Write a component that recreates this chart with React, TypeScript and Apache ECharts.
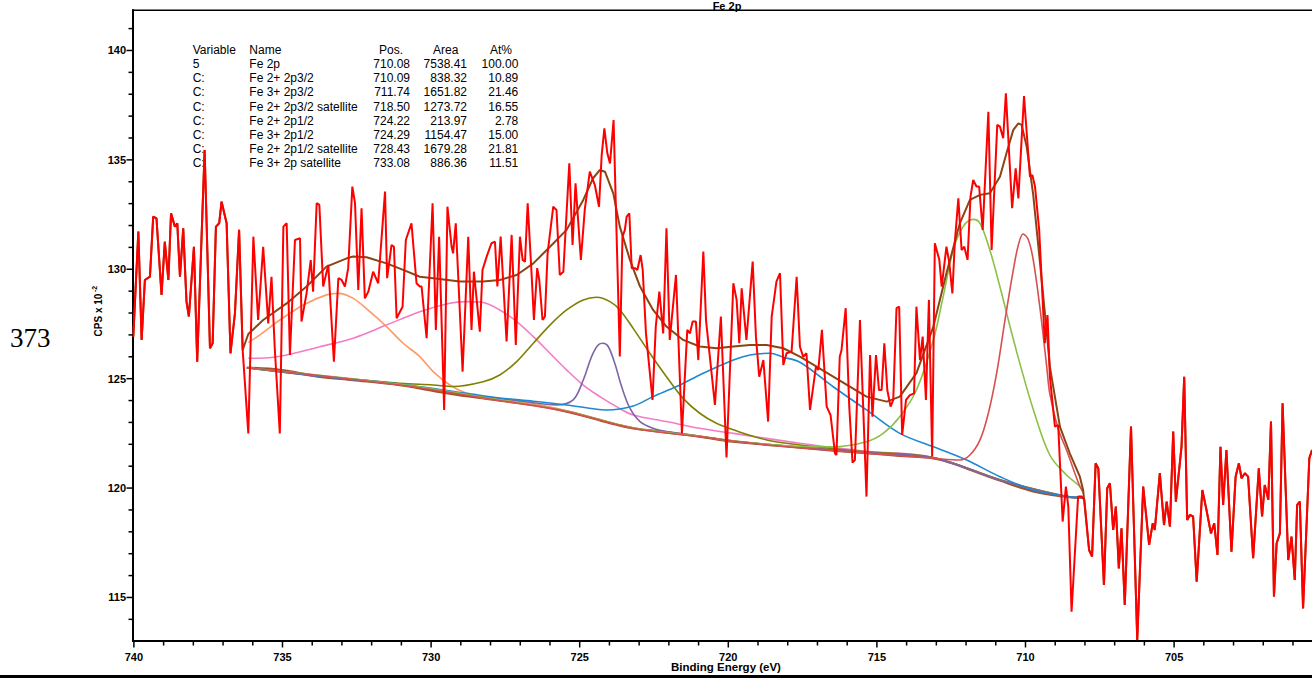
import React, { useEffect, useRef } from 'react';
import * as echarts from 'echarts';

// ---- data (binding energy eV, CPS x 10^-2) ----
const spectrum: [number, number][] = [
  [740.02, 126.92], [739.85, 131.72], [739.74, 126.77], [739.63, 129.51], [739.46, 129.66], [739.35, 132.41],
  [739.24, 132.33], [739.07, 128.83], [738.96, 131.26], [738.84, 129.51], [738.75, 132.56], [738.62, 131.95],
  [738.54, 132.1], [738.45, 129.66], [738.34, 131.87], [738.23, 128.52], [738.15, 127.84], [737.98, 131.03],
  [737.87, 125.78], [737.62, 135.45], [737.44, 126.39], [737.35, 126.62], [737.24, 131.95], [737.13, 132.1],
  [737.05, 133.09], [736.88, 132.1], [736.75, 126.16], [736.6, 127.99], [736.46, 131.8], [736.34, 126.31],
  [736.15, 122.5], [735.98, 131.49], [735.82, 127.68], [735.65, 131.03], [735.48, 127.53], [735.37, 129.66],
  [735.26, 126.39], [735.09, 122.5], [734.97, 131.95], [734.86, 132.1], [734.75, 126.08], [734.58, 131.34],
  [734.41, 131.42], [734.36, 127.61], [734.19, 128.9], [734.05, 130.42], [733.97, 128.98], [733.85, 133.02],
  [733.76, 132.94], [733.63, 129.21], [733.46, 130.2], [733.27, 125.78], [733.12, 129.59], [733.01, 129.51],
  [732.9, 129.21], [732.79, 130.04], [732.65, 133.78], [732.56, 133.02], [732.45, 129.05], [732.34, 132.79],
  [732.23, 128.67], [732.11, 128.98], [731.95, 129.89], [731.78, 129.36], [731.55, 133.55], [731.48, 129.59],
  [731.33, 131.11], [731.25, 131.03], [731.16, 127.76], [730.96, 128.29], [730.85, 131.34], [730.66, 132.1],
  [730.49, 129.36], [730.38, 129.21], [730.32, 129.21], [730.15, 126.85], [729.95, 133.02], [729.84, 127.23],
  [729.73, 131.49], [729.56, 123.57], [729.45, 132.86], [729.31, 131.03], [729.26, 130.73], [729.17, 132.1],
  [728.94, 125.32], [728.75, 131.49], [728.64, 127.23], [728.56, 129.89], [728.36, 127.15], [728.27, 129.97],
  [728.13, 130.58], [727.97, 131.19], [727.85, 131.26], [727.77, 129.21], [727.66, 131.49], [727.46, 126.7],
  [727.29, 131.57], [727.15, 126.54], [727.01, 131.49], [726.92, 130.43], [726.84, 130.35], [726.75, 133.02],
  [726.62, 129.82], [726.54, 127.68], [726.43, 130.05], [726.36, 129.51], [726.25, 127.68], [726.17, 127.84],
  [726.08, 130.73], [725.89, 132.86], [725.78, 132.71], [725.67, 129.74], [725.55, 129.89], [725.35, 134.84],
  [725.24, 131.11], [725.14, 133.93], [724.96, 130.43], [724.83, 132.71], [724.66, 134.46], [724.49, 133.85],
  [724.35, 132.86], [724.26, 135.22], [724.17, 136.44], [724.07, 135.3], [723.98, 134.84], [723.86, 136.82],
  [723.65, 126.01], [723.56, 131.49], [723.48, 131.8], [723.42, 132.41], [723.33, 132.56], [723.25, 130.05],
  [723.14, 130.05], [723.06, 129.97], [722.95, 130.65], [722.88, 129.97], [722.77, 127.07], [722.55, 124.03],
  [722.44, 127.38], [722.32, 128.98], [722.19, 127.07], [722.08, 131.87], [721.97, 126.77], [721.76, 129.74],
  [721.56, 122.5], [721.38, 127.23], [721.29, 127.07], [721.2, 127.61], [721.09, 127.61], [721.01, 125.85],
  [720.84, 130.81], [720.75, 127.68], [720.45, 123.8], [720.25, 127.84], [720.06, 121.4], [719.83, 129.36],
  [719.72, 128.6], [719.63, 126.62], [719.55, 129.13], [719.39, 126.77], [719.18, 130.35], [719.07, 126.92],
  [718.96, 125.09], [718.82, 125.85], [718.66, 123.04], [718.54, 127.84], [718.38, 129.44], [718.26, 129.82],
  [718.15, 125.63], [718.04, 126.16], [717.87, 126.24], [717.7, 129.66], [717.59, 126.46], [717.48, 126.0],
  [717.37, 126.16], [717.25, 123.57], [717.05, 125.55], [716.97, 125.4], [716.85, 127.23], [716.69, 123.72],
  [716.56, 123.34], [716.41, 121.59], [716.36, 121.51], [716.25, 126.0], [716.19, 126.31], [716.05, 128.22],
  [715.93, 123.72], [715.82, 121.16], [715.74, 121.28], [715.57, 127.68], [715.35, 119.61], [715.23, 126.08],
  [715.15, 123.26], [715.03, 126.08], [714.93, 124.48], [714.84, 124.48], [714.75, 126.62], [714.65, 124.48],
  [714.54, 123.72], [714.45, 124.03], [714.34, 128.22], [714.25, 128.29], [714.15, 122.43], [714.02, 124.03],
  [713.89, 124.25], [713.75, 124.33], [713.67, 128.29], [713.55, 125.85], [713.46, 126.92], [713.35, 124.03],
  [713.25, 128.6], [713.14, 121.44], [713.05, 131.19], [712.9, 130.43], [712.82, 129.21], [712.66, 131.03],
  [712.57, 130.35], [712.46, 128.9], [712.38, 131.19], [712.26, 133.24], [712.15, 130.88], [712.06, 131.03],
  [711.95, 130.43], [711.85, 133.32], [711.76, 134.08], [711.65, 133.78], [711.56, 133.78], [711.44, 131.8],
  [711.25, 137.2], [711.14, 130.88], [710.95, 136.6], [710.86, 136.52], [710.75, 135.99], [710.66, 138.04],
  [710.45, 132.79], [710.33, 134.61], [710.24, 133.24], [710.05, 137.92], [709.85, 134.23], [709.77, 134.31],
  [709.68, 133.78], [709.54, 131.8], [709.35, 126.62], [709.26, 127.91], [709.18, 125.09], [709.1, 124.03],
  [709.01, 122.81], [708.9, 122.88], [708.75, 118.47], [708.64, 120.07], [708.56, 119.15], [708.45, 114.35],
  [708.23, 119.61], [708.11, 119.61], [708.02, 119.46], [707.86, 117.17], [707.76, 116.87], [707.64, 121.13],
  [707.55, 120.9], [707.36, 115.57], [707.25, 119.99], [707.16, 120.22], [707.05, 118.09], [706.96, 119.15],
  [706.86, 116.33], [706.77, 118.16], [706.66, 114.66], [706.45, 122.81], [706.24, 113.06], [706.04, 120.07],
  [705.84, 117.4], [705.72, 118.39], [705.65, 118.09], [705.48, 120.68], [705.34, 118.31], [705.25, 119.38],
  [705.14, 118.24], [705.03, 122.58], [704.94, 119.38], [704.75, 121.89], [704.66, 125.09], [704.56, 118.54],
  [704.47, 118.77], [704.36, 118.7], [704.24, 115.72], [704.05, 119.91], [703.91, 119.0], [703.76, 117.93],
  [703.65, 118.39], [703.54, 116.94], [703.44, 121.89], [703.35, 119.23], [703.24, 121.74], [703.07, 117.09],
  [702.93, 120.52], [702.82, 121.13], [702.73, 120.45], [702.62, 120.68], [702.51, 120.52], [702.34, 116.79],
  [702.15, 120.9], [702.04, 118.7], [701.95, 120.14], [701.83, 119.46], [701.74, 123.04], [701.64, 115.04],
  [701.55, 117.48], [701.44, 117.93], [701.35, 123.87], [701.16, 116.71], [701.05, 117.78], [700.94, 115.8],
  [700.86, 119.23], [700.77, 119.38], [700.66, 114.5], [700.45, 121.36], [700.36, 121.74],
];

const background: [number, number][] = [
  [736.2, 125.5], [735.09, 125.4], [733.74, 125.09], [732.62, 124.94], [731.05, 124.71], [729.93, 124.45],
  [728.81, 124.2], [727.69, 124.0], [726.56, 123.8], [725.44, 123.5], [724.32, 123.1], [723.76, 122.9],
  [723.2, 122.73], [722.08, 122.55], [720.96, 122.35], [719.83, 122.12], [718.71, 121.98], [717.59, 121.85],
  [716.47, 121.72], [715.35, 121.6], [714.23, 121.48], [713.1, 121.36], [712.5, 121.15], [711.98, 120.9],
  [710.86, 120.35], [709.74, 119.85], [708.62, 119.6], [708.05, 119.55],
];

// Fe 2+ 2p3/2 (710.09)
const fe2p32: [number, number][] = [
  [736.2, 125.5], [731.05, 124.71], [727.69, 124.0], [725.44, 123.5], [723.2, 122.73], [720.96, 122.35],
  [718.71, 121.98], [716.47, 121.72], [714.23, 121.48], [713.1, 121.36], [712.21, 121.28], [711.87, 121.51],
  [711.53, 122.2], [711.25, 123.42], [710.97, 125.25], [710.69, 127.68], [710.41, 129.97], [710.24, 131.11],
  [710.08, 131.61], [709.91, 131.37], [709.74, 130.43], [709.52, 128.3], [709.29, 125.6], [709.18, 124.3],
  [708.9, 122.7], [708.62, 121.74], [708.17, 120.07], [708.05, 119.8],
];

// Fe 3+ 2p3/2 (711.74)
const fe3p32: [number, number][] = [
  [736.2, 125.5], [731.05, 124.74], [727.69, 124.03], [725.44, 123.52], [723.2, 122.75], [720.96, 122.37],
  [719.83, 122.16], [717.59, 121.9], [716.47, 121.89], [715.35, 122.12], [714.79, 122.5], [714.23, 123.26],
  [713.67, 124.48], [713.1, 126.77], [712.77, 128.75], [712.43, 130.88], [712.1, 131.95], [711.76, 132.28],
  [711.53, 132.1], [711.2, 130.88], [710.86, 129.2], [710.52, 127.38], [710.19, 125.7], [709.74, 123.6],
  [709.18, 121.5], [708.62, 120.6], [708.17, 120.07], [708.05, 119.8],
];

// Fe 2+ 2p3/2 satellite (718.50)
const fe2sat32: [number, number][] = [
  [736.2, 125.5], [733.74, 125.12], [731.05, 124.75], [728.81, 124.33], [727.69, 124.12], [726.56, 123.97],
  [725.44, 123.8], [724.6, 123.64], [724.09, 123.57], [723.2, 123.75], [722.53, 124.18], [721.74, 124.64],
  [720.96, 125.17], [719.83, 125.85], [719.27, 126.08], [718.6, 126.16], [718.15, 125.98], [717.59, 125.75],
  [716.47, 124.63], [715.35, 123.57], [714.23, 122.5], [713.1, 121.89], [711.98, 121.28], [710.86, 120.52],
  [709.74, 119.91], [708.62, 119.62], [708.05, 119.57],
];

// Fe 2+ 2p1/2 (724.22)
const fe2p12: [number, number][] = [
  [736.2, 125.5], [733.74, 125.1], [731.05, 124.73], [728.81, 124.28], [727.0, 123.98], [725.78, 123.8],
  [725.22, 124.03], [724.88, 124.94], [724.6, 126.01], [724.38, 126.54], [724.21, 126.62], [724.04, 126.47],
  [723.82, 125.7], [723.59, 124.64], [723.31, 123.65], [722.97, 123.04], [722.53, 122.73], [722.08, 122.58],
  [720.96, 122.37], [719.83, 122.14], [717.59, 121.87], [715.35, 121.62], [713.1, 121.38], [710.86, 120.37],
  [708.62, 119.61], [708.05, 119.56],
];

// Fe 3+ 2p1/2 (724.29)
const fe3p12: [number, number][] = [
  [736.2, 125.5], [733.74, 125.12], [731.05, 124.79], [729.93, 124.71], [729.26, 124.64], [728.25, 124.86],
  [727.69, 125.17], [727.12, 125.78], [726.56, 126.62], [726.0, 127.45], [725.44, 128.14], [724.88, 128.6],
  [724.43, 128.72], [723.98, 128.52], [723.65, 128.14], [723.2, 127.3], [722.64, 126.16], [722.08, 125.09],
  [721.52, 124.1], [720.96, 123.42], [720.4, 122.96], [719.83, 122.66], [718.71, 122.2], [717.59, 121.97],
  [716.47, 121.8], [715.35, 121.66], [713.1, 121.4], [710.86, 120.38], [708.62, 119.62], [708.05, 119.56],
];

// Fe 2+ 2p1/2 satellite (728.43)
const fe2sat12: [number, number][] = [
  [736.15, 125.93], [735.76, 125.93], [734.86, 126.08], [733.74, 126.46], [732.62, 126.85], [731.5, 127.45],
  [730.38, 128.06], [729.37, 128.45], [728.81, 128.52], [728.25, 128.48], [727.69, 128.14], [727.12, 127.61],
  [726.56, 126.92], [726.0, 126.16], [725.44, 125.4], [724.88, 124.71], [724.32, 124.18], [723.76, 123.72],
  [723.2, 123.34], [722.08, 123.04], [720.96, 122.73], [719.83, 122.5], [718.71, 122.27], [717.59, 122.05],
  [716.47, 121.85], [715.35, 121.68], [713.1, 121.4], [710.86, 120.38], [708.62, 119.62], [708.05, 119.56],
];

// Fe 3+ 2p satellite (733.08)
const fe3sat: [number, number][] = [
  [736.15, 126.65], [735.76, 127.0], [735.09, 127.68], [734.3, 128.37], [733.52, 128.83], [733.12, 128.9],
  [732.62, 128.67], [732.06, 128.06], [731.5, 127.38], [730.94, 126.62], [730.38, 126.01], [729.93, 125.32],
  [729.37, 124.71], [728.81, 124.33], [728.25, 124.12], [727.69, 124.05], [726.56, 123.85], [725.44, 123.53],
  [724.32, 123.12],
];

const envelopeFit: [number, number][] = [
  [736.15, 127.04], [735.65, 127.68], [734.86, 128.44], [734.19, 129.21], [733.52, 130.12], [732.84, 130.5],
  [732.62, 130.58], [732.17, 130.55], [731.5, 130.27], [730.94, 129.97], [730.38, 129.66], [729.93, 129.59],
  [729.03, 129.44], [728.25, 129.44], [727.69, 129.51], [727.12, 129.74], [726.56, 130.27], [726.0, 131.03],
  [725.44, 131.8], [724.88, 133.17], [724.55, 134.16], [724.32, 134.54], [724.15, 134.46], [723.87, 133.47],
  [723.65, 131.95], [723.31, 130.43], [722.97, 129.21], [722.53, 128.14], [722.08, 127.38], [721.52, 126.77],
  [720.96, 126.47], [720.4, 126.39], [719.83, 126.47], [719.27, 126.54], [718.71, 126.54], [718.15, 126.39],
  [717.59, 126.01], [716.47, 125.09], [715.35, 124.18], [714.67, 123.95], [714.23, 124.18], [713.67, 125.25],
  [713.1, 127.38], [712.66, 129.82], [712.21, 132.1], [711.87, 133.17], [711.53, 133.4], [711.2, 133.47],
  [710.86, 134.23], [710.64, 135.3], [710.41, 136.37], [710.24, 136.67], [710.13, 136.6], [709.96, 135.6],
  [709.74, 133.4], [709.52, 130.4], [709.29, 127.2], [709.18, 125.55], [708.84, 122.8], [708.51, 121.59],
  [708.17, 120.52], [708.06, 119.9],
];

const regionStart = 736.2;
const regionEnd = 708.0;

const xMajorTicks = [705, 710, 715, 720, 725, 730, 735, 740];
const xMinorTicks = [701, 702, 703, 704, 706, 707, 708, 709, 711, 712, 713, 714, 716, 717, 718, 719, 721, 722, 723, 724, 726, 727, 728, 729, 731, 732, 733, 734, 736, 737, 738, 739];
const yMajorTicks = [115, 120, 125, 130, 135, 140];
const yMinorTicks = [114, 116, 117, 118, 119, 121, 122, 123, 124, 126, 127, 128, 129, 131, 132, 133, 134, 136, 137, 138, 139, 141];

const tableHeader = ['Variable', 'Name', 'Pos.', 'Area', 'At%'];
const tableVar = ['5', 'C:', 'C:', 'C:', 'C:', 'C:', 'C:', 'C:'];
const tableName = ['Fe 2p', 'Fe 2+ 2p3/2', 'Fe 3+ 2p3/2', 'Fe 2+ 2p3/2 satellite', 'Fe 2+ 2p1/2', 'Fe 3+ 2p1/2', 'Fe 2+ 2p1/2 satellite', 'Fe 3+ 2p satellite'];
const tablePos = ['710.08', '710.09', '711.74', '718.50', '724.22', '724.29', '728.43', '733.08'];
const tableArea = ['7538.41', '838.32', '1651.82', '1273.72', '213.97', '1154.47', '1679.28', '886.36'];
const tableAt = ['100.00', '10.89', '21.46', '16.55', '2.78', '15.00', '21.81', '11.51'];

const X_MIN = 700.36;
const X_MAX = 740.03;
const Y_MIN = 113.01;
const Y_MAX = 141.85;

const SANS = 'Liberation Sans';

export default function App() {
  const ref = useRef<HTMLDivElement>(null);

  useEffect(() => {
    if (!ref.current) return;
    const chart = echarts.init(ref.current, undefined, { renderer: 'svg' });

    const envelopeFull = [
      ...spectrum.filter((p) => p[0] > regionStart),
      ...envelopeFit,
      ...spectrum.filter((p) => p[0] < regionEnd),
    ];

    const comp = (name: string, data: [number, number][], color: string, width = 1.6) => ({
      name,
      type: 'line',
      data,
      xAxisIndex: 0,
      yAxisIndex: 0,
      showSymbol: false,
      smooth: 0.35,
      lineStyle: { color, width },
      silent: true,
    });

    // tick marks drawn through the axes' own scale
    const tickSeries = (values: number[], dir: 'x' | 'y', len: number) => ({
      type: 'custom',
      xAxisIndex: 0,
      yAxisIndex: 0,
      silent: true,
      clip: false,
      z: 6,
      data: values.map((v) => (dir === 'x' ? [v, Y_MIN] : [X_MAX, v])),
      renderItem: (_p: any, api: any) => {
        const pt = api.coord([api.value(0), api.value(1)]);
        const shape =
          dir === 'x'
            ? { x1: pt[0], y1: pt[1], x2: pt[0], y2: pt[1] + len }
            : { x1: pt[0] - len, y1: pt[1], x2: pt[0], y2: pt[1] };
        return { type: 'line', shape, style: { stroke: '#000', lineWidth: 1.5 } };
      },
    });

    const table: any[] = [];
    const rowY = (i: number) => 49.8 + i * 14.18;
    const txt = (text: string, x: number, y: number, align: string) => ({
      type: 'text',
      x,
      y,
      z: 1,
      style: { text, fill: '#000', fontSize: 12, fontFamily: SANS, align, verticalAlign: 'middle' },
    });
    table.push(txt(tableHeader[0], 192.7, rowY(0), 'left'));
    table.push(txt(tableHeader[1], 249.3, rowY(0), 'left'));
    table.push(txt(tableHeader[2], 379, rowY(0), 'left'));
    table.push(txt(tableHeader[3], 433, rowY(0), 'left'));
    table.push(txt(tableHeader[4], 490, rowY(0), 'left'));
    tableName.forEach((n, i) => {
      const y = rowY(i + 1);
      table.push(txt(tableVar[i], 192.7, y, 'left'));
      table.push(txt(n, 249.3, y, 'left'));
      table.push(txt(tablePos[i], 410, y, 'right'));
      table.push(txt(tableArea[i], 467, y, 'right'));
      table.push(txt(tableAt[i], 518.3, y, 'right'));
    });

    const option: any = {
      animation: false,
      backgroundColor: '#ffffff',
      grid: { left: 133, top: 10, width: 1179, height: 631, containLabel: false },
      xAxis: {
        type: 'value',
        min: X_MIN,
        max: X_MAX,
        inverse: true,
        position: 'bottom',
        axisLine: { show: true, lineStyle: { color: '#000', width: 2 } },
        axisTick: { show: false },
        axisLabel: {
          show: true,
          customValues: xMajorTicks,
          color: '#000',
          fontSize: 11,
          fontWeight: 'bold',
          fontFamily: SANS,
          margin: 10,
        },
        splitLine: { show: false },
      },
      yAxis: {
        type: 'value',
        min: Y_MIN,
        max: Y_MAX,
        position: 'left',
        axisLine: { show: true, lineStyle: { color: '#000', width: 2 } },
        axisTick: { show: false },
        axisLabel: {
          show: true,
          customValues: yMajorTicks,
          color: '#000',
          fontSize: 11,
          fontWeight: 'bold',
          fontFamily: SANS,
          margin: 7,
        },
        splitLine: { show: false },
      },
      series: [
        comp('Background', background, '#a0522d', 2.4),
        comp('Fe 3+ 2p satellite', fe3sat, '#ff9966'),
        comp('Fe 2+ 2p1/2 satellite', fe2sat12, '#f47cc6'),
        comp('Fe 3+ 2p1/2', fe3p12, '#808000'),
        comp('Fe 2+ 2p1/2', fe2p12, '#8064a8'),
        comp('Fe 2+ 2p3/2 satellite', fe2sat32, '#1f88d0'),
        comp('Fe 3+ 2p3/2', fe3p32, '#8dc046'),
        comp('Fe 2+ 2p3/2', fe2p32, '#d65050'),
        { ...comp('Envelope', envelopeFull as [number, number][], '#8b4513', 2), smooth: false },
        {
          name: 'Fe 2p',
          type: 'line',
          data: spectrum,
          xAxisIndex: 0,
          yAxisIndex: 0,
          showSymbol: false,
          smooth: false,
          lineStyle: { color: '#ff0000', width: 2 },
          silent: true,
          z: 5,
        },
        tickSeries(xMajorTicks, 'x', 6.5),
        tickSeries(xMinorTicks, 'x', 4.5),
        tickSeries(yMajorTicks, 'y', 6.5),
        tickSeries(yMinorTicks, 'y', 4.5),
      ],
      graphic: [
        { type: 'rect', shape: { x: 132, y: 9.5, width: 1180, height: 1.6 }, style: { fill: '#000' } },
        { type: 'rect', shape: { x: 0, y: 675, width: 1312, height: 3 }, style: { fill: '#000' } },
        {
          type: 'text', x: 727, y: 6,
          style: { text: 'Fe 2p', fill: '#000', fontSize: 11, fontWeight: 'bold', fontFamily: SANS, align: 'center', verticalAlign: 'middle' },
        },
        {
          type: 'text', x: 726, y: 667,
          style: { text: 'Binding Energy (eV)', fill: '#000', fontSize: 11.5, fontWeight: 'bold', fontFamily: SANS, align: 'center', verticalAlign: 'middle' },
        },
        {
          type: 'text', x: 98, y: 315, rotation: Math.PI / 2,
          style: { text: 'CPS x 10', fill: '#000', fontSize: 10, fontWeight: 'bold', fontFamily: SANS, align: 'center', verticalAlign: 'middle' },
        },
        {
          type: 'text', x: 94.5, y: 289, rotation: Math.PI / 2,
          style: { text: '-2', fill: '#000', fontSize: 7, fontWeight: 'bold', fontFamily: SANS, align: 'center', verticalAlign: 'middle' },
        },
        {
          type: 'text', x: 10, y: 338,
          style: { text: '373', fill: '#000', fontSize: 27, fontFamily: 'Liberation Serif', align: 'left', verticalAlign: 'middle' },
        },
        ...table,
      ],
    };

    chart.setOption(option);
    return () => chart.dispose();
  }, []);

  return (
    <div
      ref={ref}
      style={{ position: 'fixed', left: 0, top: 0, width: 1312, height: 678, background: '#fff' }}
    />
  );
}
